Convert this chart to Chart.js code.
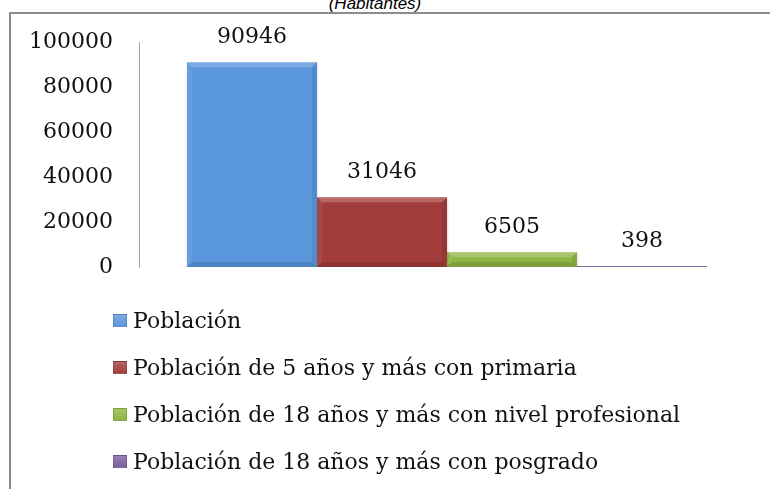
<!DOCTYPE html>
<html>
<head>
<meta charset="utf-8">
<script src="https://cdn.jsdelivr.net/npm/chart.js@4"></script>
<style>
  html, body { margin: 0; padding: 0; background: #fff; }
  #wrap { position: relative; width: 770px; height: 489px; overflow: hidden; }
  #frame { position: absolute; left: 9px; top: 12px; right: -5px; bottom: -5px; border-top: 2px solid #8c8c8c; border-left: 2px solid #8c8c8c; }
  #title { position: absolute; left: 0; width: 750px; top: -5px; text-align: center; font: italic 17px "Liberation Sans", Arial, sans-serif; color: #000; line-height: 17px; }
  #c { position: absolute; left: 0; top: 0; }
  #legend { position: absolute; left: 113px; top: 297px; }
  .row { display: flex; align-items: center; height: 47px; font: 22px "DejaVu Serif", serif; color: #111; white-space: nowrap; }
  .box { width: 14px; height: 13px; margin-right: 6px; box-sizing: border-box; }
</style>
</head>
<body>
<div id="wrap">
  <div id="frame"></div>
  <div id="title">(Habitantes)</div>
  <canvas id="c" width="770" height="489"></canvas>
  <div id="legend"></div>
</div>
<script>
// Data
const categories = ['Habitantes'];
const seriesNames = [
    'Población',
    'Población de 5 años y más con primaria',
    'Población de 18 años y más con nivel profesional',
    'Población de 18 años y más con posgrado'
];
const seriesValues = [90946, 31046, 6505, 398];
const seriesColors = ['#5a97dd', '#a23d3c', '#8fb742', '#7d61a1'];
const yTicks = [0, 20000, 40000, 60000, 80000, 100000];

const serif = '"DejaVu Serif", serif';

// Soft shadow under each bar
const shadowPlugin = {
    id: 'barShadow',
    beforeDatasetDraw(chart) {
        const ctx = chart.ctx;
        ctx.save();
        ctx.shadowColor = 'rgba(0,0,0,0.25)';
        ctx.shadowBlur = 3;
        ctx.shadowOffsetY = 2;
    },
    afterDatasetDraw(chart, args) {
        const ctx = chart.ctx;
        ctx.restore();
        // bevel look on the bars
        args.meta.data.forEach(bar => {
            const p = bar.getProps(['x', 'y', 'base', 'width'], true);
            const l = p.x - p.width / 2, r = p.x + p.width / 2;
            const t = Math.min(p.y, p.base), b = Math.max(p.y, p.base);
            const s = Math.min(5, (b - t) / 2);
            if (s <= 0) return;
            const quad = (pts, col) => {
                ctx.beginPath();
                ctx.moveTo(pts[0][0], pts[0][1]);
                for (let i = 1; i < pts.length; i++) ctx.lineTo(pts[i][0], pts[i][1]);
                ctx.closePath();
                ctx.fillStyle = col;
                ctx.fill();
            };
            quad([[l, t], [r, t], [r - s, t + s], [l + s, t + s]], 'rgba(255,255,255,0.22)');
            quad([[l, t], [l + s, t + s], [l + s, b - s], [l, b]], 'rgba(255,255,255,0.06)');
            quad([[r, t], [r, b], [r - s, b - s], [r - s, t + s]], 'rgba(0,0,0,0.08)');
            quad([[l, b], [r, b], [r - s, b - s], [l + s, b - s]], 'rgba(0,0,0,0.12)');
        });
    }
};

// Value labels above bars
const valueLabels = {
    id: 'valueLabels',
    afterDatasetsDraw(chart) {
        const ctx = chart.ctx;
        ctx.save();
        ctx.font = '22px ' + serif;
        ctx.fillStyle = '#111';
        ctx.textAlign = 'center';
        ctx.textBaseline = 'middle';
        chart.data.datasets.forEach((ds, i) => {
            chart.getDatasetMeta(i).data.forEach((bar, j) => {
                ctx.fillText(String(ds.data[j]), bar.x, bar.y - 25);
            });
        });
        ctx.restore();
    }
};

const chart = new Chart(document.getElementById('c'), {
    type: 'bar',
    data: {
        labels: categories,
        datasets: seriesNames.map((name, i) => ({
            label: name,
            data: [seriesValues[i]],
            backgroundColor: seriesColors[i],
            borderWidth: 0,
            categoryPercentage: 0.844,
            barPercentage: 1
        }))
    },
    options: {
        responsive: false,
        animation: false,
        layout: { padding: { top: 42, right: 15, bottom: 222, left: 0 } },
        plugins: {
            legend: { display: false },
            tooltip: { enabled: false }
        },
        scales: {
            x: { display: false },
            y: {
                min: 0,
                max: 100000,
                afterFit: s => { s.width = 139; },
                afterBuildTicks: s => { s.ticks = yTicks.map(v => ({ value: v })); },
                ticks: {
                    padding: 26,
                    color: '#111',
                    font: { family: serif, size: 22 },
                    callback: v => String(v)
                },
                grid: { display: false, drawTicks: false },
                border: { display: true, color: '#a6a6a6', width: 1 }
            }
        }
    },
    plugins: [shadowPlugin, valueLabels]
});

// Legend, one entry per line
const legendEl = document.getElementById('legend');
chart.data.datasets.forEach(ds => {
    const row = document.createElement('div');
    row.className = 'row';
    const box = document.createElement('span');
    box.className = 'box';
    box.style.background = `linear-gradient(${ds.backgroundColor}cc, ${ds.backgroundColor})`;
    box.style.border = '1px solid rgba(0,0,0,0.15)';
    const txt = document.createElement('span');
    txt.textContent = ds.label;
    row.appendChild(box);
    row.appendChild(txt);
    legendEl.appendChild(row);
});
</script>
</body>
</html>
